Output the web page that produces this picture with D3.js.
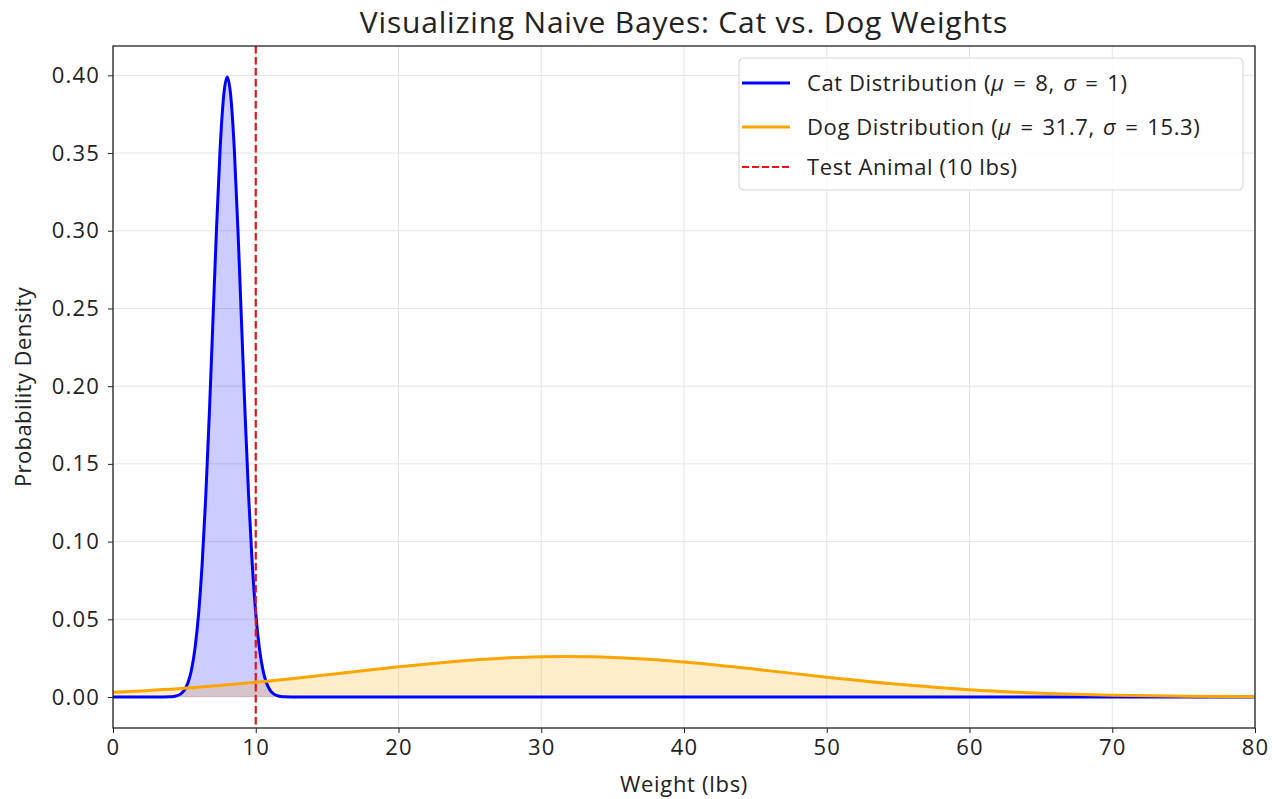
<!DOCTYPE html>
<html><head><meta charset="utf-8">
<script src="https://cdn.jsdelivr.net/npm/d3@7"></script>
<style>body{margin:0;background:#fff}svg{font-family:"Open Sans",sans-serif}</style>
</head><body><svg id="c" width="1275" height="799"></svg>
<script>
// Cat distribution
const catX = [0,3,3.5,4,4.25,4.5,4.75,5,5.25,5.5,5.75,6,6.25,6.5,6.75,7,7.25,7.5,7.75,8,8.25,8.5,8.75,9,9.25,9.5,9.75,10,10.25,10.5,10.75,11,11.25,11.5,11.75,12,12.5,13,80];
const catY = [0,0,0.00001,0.0001,0.00035,0.00087,0.00203,0.00443,0.00909,0.01753,0.03174,0.05399,0.08628,0.12952,0.18265,0.24197,0.30114,0.35207,0.38667,0.39894,0.38667,0.35207,0.30114,0.24197,0.18265,0.12952,0.08628,0.05399,0.03174,0.01753,0.00909,0.00443,0.00203,0.00087,0.00035,0.0001,0.00001,0,0];
// Dog distribution
const dogX = [0,5,10,15,20,25,27.5,30,31.7,33.5,35,37.5,40,45,50,55,60,65,70,75,80];
const dogY = [0.00305,0.00569,0.00953,0.01437,0.01946,0.02369,0.02512,0.02591,0.02607,0.02590,0.02547,0.02423,0.02250,0.01787,0.01275,0.00818,0.00471,0.00244,0.00114,0.00048,0.00018];
const testWeight = 10;
const xTicks = [0,10,20,30,40,50,60,70,80];
const yTicks = [0,0.05,0.10,0.15,0.20,0.25,0.30,0.35,0.40];
const legendLabels = ["Cat Distribution", "Dog Distribution", "Test Animal (10 lbs)"];

const svg = d3.select("#c");
const L=113, R=1255, T=46, B=728;
const x = d3.scaleLinear().domain([0,80]).range([L,R]);
const y = d3.scaleLinear().domain([-0.01995,0.41889]).range([B,T]);

// grid
const g = svg.append("g");
g.selectAll(".gx").data(xTicks).enter().append("line")
 .attr("x1",d=>x(d)).attr("x2",d=>x(d)).attr("y1",T).attr("y2",B)
 .attr("stroke","#e4e4e4").attr("stroke-width",1);
g.selectAll(".gy").data(yTicks).enter().append("line")
 .attr("y1",d=>y(d)).attr("y2",d=>y(d)).attr("x1",L).attr("x2",R)
 .attr("stroke","#e4e4e4").attr("stroke-width",1);

const cat = catX.map((v,i)=>[v,catY[i]]);
const dog = dogX.map((v,i)=>[v,dogY[i]]);
const area = d3.area().x(d=>x(d[0])).y0(y(0)).y1(d=>y(d[1])).curve(d3.curveMonotoneX);
const line = d3.line().x(d=>x(d[0])).y(d=>y(d[1])).curve(d3.curveMonotoneX);

svg.append("clipPath").attr("id","cp").append("rect").attr("x",L).attr("y",T).attr("width",R-L).attr("height",B-T);
const p = svg.append("g").attr("clip-path","url(#cp)");
p.append("path").datum(cat).attr("d",area).attr("fill","rgba(0,0,255,0.2)");
p.append("path").datum(dog).attr("d",area).attr("fill","rgba(255,165,0,0.2)");
p.append("path").datum(cat).attr("d",line).attr("fill","none").attr("stroke","#0000ff").attr("stroke-width",3);
p.append("path").datum(dog).attr("d",line).attr("fill","none").attr("stroke","#ffa500").attr("stroke-width",3);
p.append("line").attr("x1",x(testWeight)).attr("x2",x(testWeight)).attr("y1",T).attr("y2",B)
 .attr("stroke","#e8141a").attr("stroke-width",2.2).attr("stroke-dasharray","7.5,3.5");

// axes
const xa = svg.append("g").attr("transform",`translate(0,${B})`)
 .call(d3.axisBottom(x).tickValues(xTicks).tickFormat(d3.format("d")).tickSize(5).tickPadding(6));
const ya = svg.append("g").attr("transform",`translate(${L},0)`)
 .call(d3.axisLeft(y).tickValues(yTicks).tickFormat(d3.format(".2f")).tickSize(5).tickPadding(8));
[xa,ya].forEach(a=>{a.select(".domain").remove();a.selectAll("text").attr("font-size",22).attr("fill","#222").attr("font-family","Open Sans").attr("letter-spacing",1.2);a.selectAll("line").attr("stroke","#222");});
svg.append("rect").attr("x",L).attr("y",T).attr("width",R-L).attr("height",B-T).attr("fill","none").attr("stroke","#222").attr("stroke-width",1.3);

// labels
svg.append("text").attr("x",(L+R)/2).attr("y",33).attr("text-anchor","middle").attr("font-size",30).attr("letter-spacing",0.8).attr("fill","#222").text("Visualizing Naive Bayes: Cat vs. Dog Weights");
svg.append("text").attr("x",(L+R)/2).attr("y",792).attr("text-anchor","middle").attr("font-size",22).attr("letter-spacing",0.7).attr("fill","#222").text("Weight (lbs)");
svg.append("text").attr("transform",`translate(31,${(T+B)/2}) rotate(-90)`).attr("text-anchor","middle").attr("font-size",22).attr("letter-spacing",0.4).attr("fill","#222").text("Probability Density");

// legend
const lg = svg.append("g");
lg.append("rect").attr("x",739).attr("y",58).attr("width",504).attr("height",132).attr("rx",5)
 .attr("fill","rgba(255,255,255,0.85)").attr("stroke","#d8d8d8").attr("stroke-width",1.2);
const rows=[{c:"#0000ff",d:null,y:83,lab:legendLabels[0],mu:"8",sg:"1"},
 {c:"#ffa500",d:null,y:127,lab:legendLabels[1],mu:"31.7",sg:"15.3"},
 {c:"#e8141a",d:"7,3",y:167,lab:legendLabels[2]}];
rows.forEach(r=>{
 lg.append("line").attr("x1",742).attr("x2",790).attr("y1",r.y).attr("y2",r.y).attr("stroke",r.c).attr("stroke-width",r.d?2.2:3).attr("stroke-dasharray",r.d);
 const t=lg.append("text").attr("x",807).attr("y",r.y+8).attr("font-size",22).attr("letter-spacing",0.6).attr("fill","#222");
 if(r.mu){
  t.append("tspan").text(r.lab+" (");
  t.append("tspan").attr("font-style","italic").text("μ");
  t.append("tspan").attr("dx",2.5).text(" =");
  t.append("tspan").attr("dx",2.5).text(" "+r.mu+",");
  t.append("tspan").attr("dx",2).text(" ");
  t.append("tspan").attr("font-style","italic").text("σ");
  t.append("tspan").attr("dx",2.5).text(" =");
  t.append("tspan").attr("dx",2.5).text(" "+r.sg+")");
 } else t.text(r.lab);
});
</script></body></html>
